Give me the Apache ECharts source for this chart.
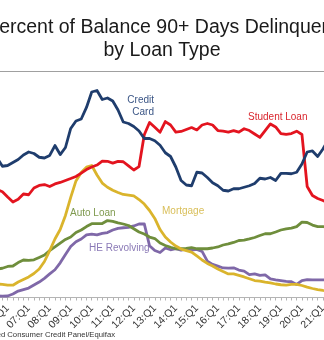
<!DOCTYPE html>
<html>
<head>
<meta charset="utf-8">
<script src="https://cdn.jsdelivr.net/npm/echarts@6/dist/echarts.min.js"></script>
<style>
html,body{margin:0;padding:0;width:324px;height:340px;overflow:hidden;background:#fff;}
#chart{position:absolute;left:-60px;top:0;width:400px;height:340px;}
</style>
</head>
<body>
<div id="chart"></div>
<script>
// quarters 2003:Q1 .. 2021:Q2
const startYear = 3, endYear = 21, endQuarter = 2;
const quarters = [];
for (let y = startYear; y <= endYear; y++) {
  for (let q = 1; q <= 4; q++) {
    if (y === endYear && q > endQuarter) break;
    quarters.push((y < 10 ? '0' : '') + y + ':Q' + q);
  }
}

const creditCard = [8.9, 8.8, 8.7, 8.6, 8.7, 8.8, 9.0, 9.1, 9.0, 9.3, 9.3,
  8.75, 8.8, 9.0, 9.2, 9.5, 9.7, 9.6, 9.35, 9.3, 9.47,
  10.13, 9.53, 10.0, 11.27, 11.77, 11.9, 12.67, 13.7, 13.8, 13.2,
  13.3, 13.1, 12.5, 11.7, 11.6, 11.4, 11.1, 10.6, 10.6, 10.45,
  10.15, 9.65, 9.4, 8.7, 7.8, 7.5, 7.45, 8.35, 8.3, 8.0,
  7.65, 7.45, 7.15, 7.1, 7.25, 7.25, 7.35, 7.45, 7.6, 7.95,
  7.9, 8.0, 7.8, 8.28, 8.28, 8.25, 8.35, 8.9, 9.7, 9.77,
  9.4, 9.9, 10.5];

const studentLoan = [6.0, 6.1, 6.2, 6.3, 6.4, 6.5, 6.6, 6.7, 6.9, 7.0, 7.2,
  7.05, 6.7, 6.37, 6.55, 6.9, 6.85, 7.3, 7.47, 7.53, 7.4,
  7.57, 7.67, 7.8, 7.93, 8.07, 8.29, 8.53, 8.7, 8.83, 9.09,
  9.08, 8.96, 9.07, 9.05, 8.77, 8.5, 8.73, 10.85, 11.67, 11.35,
  11.02, 11.73, 11.5, 11.03, 11.07, 11.2, 11.33, 11.17, 11.5, 11.6,
  11.5, 11.13, 11.09, 11.03, 11.12, 11.02, 11.25, 11.13, 10.9, 10.67,
  11.13, 11.57, 11.37, 10.93, 10.87, 10.93, 11.09, 10.87, 7.4, 6.8,
  6.6, 6.47, 6.3];

const mortgage = [1.1, 1.05, 1.0, 0.95, 0.9, 0.9, 0.85, 0.85, 0.9, 0.9, 0.9,
  0.87, 0.82, 0.82, 1.03, 1.2, 1.37, 1.6, 1.9, 2.4, 3.13,
  3.9, 4.53, 5.47, 6.67, 7.77, 8.33, 8.69, 8.8, 8.17, 7.63,
  7.35, 7.15, 7.0, 6.87, 6.83, 6.77, 6.53, 6.23, 5.8, 5.27,
  4.53, 4.03, 3.7, 3.43, 3.23, 3.13, 3.03, 2.77, 2.5, 2.27,
  2.1, 1.9, 1.73, 1.57, 1.57, 1.47, 1.37, 1.25, 1.13, 1.09,
  1.02, 0.97, 0.9, 0.85, 0.83, 0.88, 0.88, 0.8, 0.69, 0.6,
  0.53, 0.47, 0.43];

const autoLoan = [2.4, 2.35, 2.3, 2.25, 2.2, 2.15, 2.1, 2.05, 2.0, 1.95, 1.9,
  1.95, 2.07, 2.1, 2.33, 2.5, 2.47, 2.51, 2.67, 2.83, 3.13,
  3.37, 3.63, 3.87, 4.03, 4.33, 4.5, 4.73, 4.92, 4.93, 4.93,
  5.13, 5.07, 4.97, 4.9, 4.8, 4.58, 4.37, 4.23, 4.03, 3.93,
  3.63, 3.47, 3.35, 3.25, 3.25, 3.27, 3.33, 3.25, 3.25, 3.25,
  3.3, 3.37, 3.5, 3.57, 3.67, 3.8, 3.83, 3.91, 4.0, 4.13,
  4.25, 4.25, 4.37, 4.5, 4.58, 4.63, 4.73, 5.02, 5.0, 4.83,
  4.73, 4.73, 4.7];

const heRevolving = [0.3, 0.3, 0.25, 0.25, 0.2, 0.2, 0.2, 0.15, 0.15, 0.1, 0.1,
  0.09, 0.1, 0.23, 0.43, 0.53, 0.63, 0.83, 1.03, 1.28, 1.57,
  1.85, 2.31, 2.87, 3.4, 3.72, 3.9, 4.17, 4.23, 4.17, 4.27,
  4.33, 4.5, 4.61, 4.65, 4.67, 4.77, 4.9, 4.91, 3.45, 3.13,
  3.0, 3.3, 3.18, 3.25, 3.15, 3.22, 3.16, 3.21, 3.07, 2.42,
  2.21, 2.09, 1.97, 1.96, 1.98, 1.83, 1.76, 1.53, 1.57, 1.47,
  1.51, 1.24, 1.18, 1.13, 1.08, 1.05, 0.87, 1.13, 1.19, 1.18,
  1.18, 1.18, 1.17];

const titleLines = ['Percent of Balance 90+ Days Delinquent', 'by Loan Type'];
const sourceText = 'Source: New York Fed Consumer Credit Panel/Equifax';

const FONT = '"Liberation Sans", Arial, sans-serif';
const colors = {
  cc: '#1f3d6d', sl: '#e3141f', mg: '#dab42c', al: '#6f8e3c', he: '#7f68a8'
};

const chart = echarts.init(document.getElementById('chart'), null, {renderer: 'canvas'});

function line(name, data, color, z) {
  return {
    name, type: 'line', data, symbol: 'none', z,
    lineStyle: {color, width: 2.8, join: 'round'},
    itemStyle: {color},
    animation: false
  };
}

chart.setOption({
  animation: false,
  backgroundColor: '#fff',
  grid: {left: 4.6, right: 11.8, top: 72.5, bottom: 42.5, containLabel: false, outerBoundsMode: 'none'},
  xAxis: {
    type: 'category',
    data: quarters,
    boundaryGap: false,
    axisLine: {show: true, lineStyle: {color: '#b4b4b4', width: 1}},
    axisTick: {show: true, interval: 0, length: 3, lineStyle: {color: '#b4b4b4'}},
    axisLabel: {
      interval: (i) => i % 4 === 0,
      rotate: 45, margin: 9,
      fontSize: 10.5, fontFamily: FONT, color: '#333'
    },
    splitLine: {show: false}
  },
  yAxis: {
    type: 'value', min: 0, max: 15, show: false,
    splitLine: {show: false}
  },
  series: [
    line('HE Revolving', heRevolving, colors.he, 2),
    line('Auto Loan', autoLoan, colors.al, 3),
    line('Mortgage', mortgage, colors.mg, 4),
    line('Student Loan', studentLoan, colors.sl, 5),
    line('Credit Card', creditCard, colors.cc, 6)
  ],
  graphic: [
    {type: 'line', shape: {x1: 60, y1: 71.5, x2: 384, y2: 71.5}, style: {stroke: '#a0a0a0', lineWidth: 1}, silent: true},
    {type: 'text', x: 222, y: 27.5, style: {text: titleLines[0], font: '19.5px ' + FONT, fill: '#1a1a1a', textAlign: 'center', textVerticalAlign: 'middle'}},
    {type: 'text', x: 222, y: 50.5, style: {text: titleLines[1], font: '19.5px ' + FONT, fill: '#1a1a1a', textAlign: 'center', textVerticalAlign: 'middle'}},
    {type: 'text', x: 214, y: 100, style: {text: 'Credit', font: '10px ' + FONT, fill: '#3a5585', textAlign: 'right', textVerticalAlign: 'middle'}},
    {type: 'text', x: 214, y: 112, style: {text: 'Card', font: '10px ' + FONT, fill: '#3a5585', textAlign: 'right', textVerticalAlign: 'middle'}},
    {type: 'text', x: 308, y: 117, style: {text: 'Student Loan', font: '10px ' + FONT, fill: '#d9262e', textAlign: 'left', textVerticalAlign: 'middle'}},
    {type: 'text', x: 130, y: 213, style: {text: 'Auto Loan', font: '10px ' + FONT, fill: '#7f9a4f', textAlign: 'left', textVerticalAlign: 'middle'}},
    {type: 'text', x: 222, y: 211, style: {text: 'Mortgage', font: '10px ' + FONT, fill: '#d9bf5a', textAlign: 'left', textVerticalAlign: 'middle'}},
    {type: 'text', x: 149, y: 248, style: {text: 'HE Revolving', font: '10px ' + FONT, fill: '#8a79b6', textAlign: 'left', textVerticalAlign: 'middle'}},
    {type: 'text', x: 175, y: 334.5, style: {text: sourceText, font: '7.7px ' + FONT, fill: '#333', textAlign: 'right', textVerticalAlign: 'middle'}}
  ]
});
</script>
</body>
</html>
